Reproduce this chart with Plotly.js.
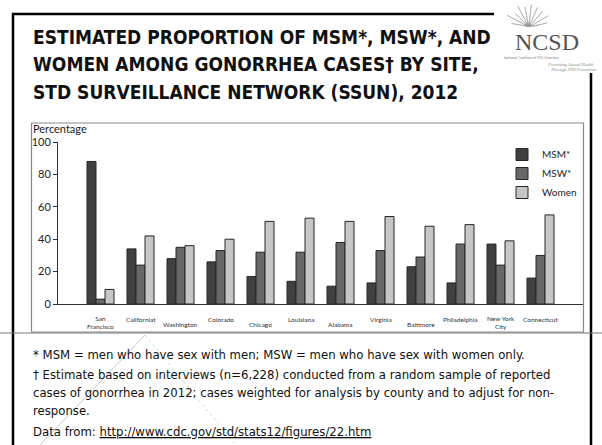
<!DOCTYPE html>
<html>
<head>
<meta charset="utf-8">
<script src="https://cdn.plot.ly/plotly-3.0.1.min.js"></script>
<style>
  html, body { margin: 0; padding: 0; background: #ffffff; }
  #chart { width: 602px; height: 445px; }
</style>
</head>
<body>
<div id="chart"></div>
<script>
// ---- data ----
const categories = ['San Francisco', 'Californiat', 'Washington', 'Colorado', 'Chicago', 'Louisiana',
                    'Alabama', 'Virginia', 'Baltimore', 'Philadelphia', 'New York City', 'Connecticut'];
const tickLabels = ['San<br>Francisco', 'Californiat', 'Washington', 'Colorado', 'Chicago', 'Louisiana',
                    'Alabama', 'Virginia', 'Baltimore', 'Philadelphia', 'New York<br>City', 'Connecticut'];
const msm   = [88, 34, 28, 26, 17, 14, 11, 13, 23, 13, 37, 16];
const msw   = [3, 24, 35, 33, 32, 32, 38, 33, 29, 37, 24, 30];
const women = [9, 42, 36, 40, 51, 53, 51, 54, 48, 49, 39, 55];
const seriesNames = ['MSM*', 'MSW*', 'Women'];
const yTicks = [0, 20, 40, 60, 80, 100];

const titleLines = [
  'ESTIMATED PROPORTION OF MSM*, MSW*, AND',
  'WOMEN AMONG GONORRHEA CASES\u2020 BY SITE,',
  'STD SURVEILLANCE NETWORK (SSUN), 2012'
];
const footLines = [
  '* MSM = men who have sex with men; MSW = men who have sex with women only.',
  '\u2020 Estimate based on interviews (n=6,228) conducted from a random sample of reported',
  'cases of gonorrhea in 2012; cases weighted for analysis by county and to adjust for non-',
  'response.'
];
const sourcePrefix = 'Data from: ';
const sourceUrl = 'http://www.cdc.gov/std/stats12/figures/22.htm';

// ---- geometry helpers (pixel -> paper) ----
const W = 602, H = 445;
const px = x => x / W;
const py = y => 1 - y / H;

const chartFont = 'Lato, "Open Sans", sans-serif';
const slideFont = '"DejaVu Sans Condensed", "Liberation Sans", Arial, sans-serif';

const colors = ['#404040', '#686868', '#c6c6c6'];
const seriesVals = [msm, msw, women];

const traces = seriesVals.map((vals, i) => ({
  type: 'bar',
  name: seriesNames[i],
  x: categories,
  y: vals,
  marker: { color: colors[i], line: { color: '#262626', width: 1 } },
  hoverinfo: 'x+y+name'
}));

const annotations = [];
// title lines
const titleY = [36.5, 64.5, 92.5];
titleLines.forEach((t, i) => annotations.push({
  xref: 'paper', yref: 'paper', x: px(31), y: py(titleY[i]),
  xanchor: 'left', yanchor: 'middle', showarrow: false,
  text: '<b>' + t + '</b>',
  font: { family: slideFont, size: 19, color: '#111' }
}));
// footnotes
const footY = [354, 374, 392, 410];
footLines.forEach((t, i) => annotations.push({
  xref: 'paper', yref: 'paper', x: px(31), y: py(footY[i]),
  xanchor: 'left', yanchor: 'middle', showarrow: false,
  text: t,
  font: { family: slideFont, size: 13, color: '#111' }
}));
annotations.push({
  xref: 'paper', yref: 'paper', x: px(31), y: py(431),
  xanchor: 'left', yanchor: 'middle', showarrow: false,
  text: sourcePrefix + '<span style="text-decoration:underline">' + sourceUrl + '</span>',
  font: { family: slideFont, size: 13, color: '#111' }
});
// y-axis label
annotations.push({
  xref: 'paper', yref: 'paper', x: px(31), y: py(129),
  xanchor: 'left', yanchor: 'middle', showarrow: false,
  text: 'Percentage',
  font: { family: chartFont, size: 11, color: '#222' }
});
// category labels (staggered)
categories.forEach((c, i) => {
  const twoLine = tickLabels[i].indexOf('<br>') >= 0;
  const lower = (i % 2 === 0);
  let yc = lower ? 324 : 319.5;
  if (twoLine) yc = 322.5;
  annotations.push({
    xref: 'x', yref: 'paper', x: c, y: py(yc),
    xanchor: 'center', yanchor: 'middle', showarrow: false,
    text: tickLabels[i],
    font: { family: chartFont, size: 6.5, color: '#333' }
  });
});
// logo text
annotations.push({
  xref: 'paper', yref: 'paper', x: px(547), y: py(42),
  xanchor: 'center', yanchor: 'middle', showarrow: false,
  text: 'NCSD',
  font: { family: '"Liberation Serif", "DejaVu Serif", serif', size: 24, color: '#555' }
});
annotations.push({
  xref: 'paper', yref: 'paper', x: px(531), y: py(58),
  xanchor: 'center', yanchor: 'middle', showarrow: false,
  text: 'National Coalition of STD Directors',
  font: { family: slideFont, size: 3.5, color: '#777' }
});
annotations.push({
  xref: 'paper', yref: 'paper', x: px(596), y: py(64),
  xanchor: 'right', yanchor: 'middle', showarrow: false,
  text: '<i>Promoting Sexual Health</i>',
  font: { family: '"Liberation Serif", serif', size: 4.5, color: '#888' }
});
annotations.push({
  xref: 'paper', yref: 'paper', x: px(599), y: py(70),
  xanchor: 'right', yanchor: 'middle', showarrow: false,
  text: '<i>Through STD Prevention</i>',
  font: { family: '"Liberation Serif", serif', size: 4.5, color: '#888' }
});

// sunburst logo path
function sunburst(cx, cy, rIn, rOut, a0, a1, n) {
  let d = '';
  for (let k = 0; k <= n; k++) {
    const a = (a0 + (a1 - a0) * k / n) * Math.PI / 180;
    const ah = (a0 + (a1 - a0) * (k + 0.5) / n) * Math.PI / 180;
    const r = rOut * (0.7 + 0.3 * Math.abs(Math.sin(k * 1.7)));
    const ox = cx + r * Math.cos(a), oy = cy - r * Math.sin(a);
    d += (k === 0 ? 'M' : 'L') + px(cx + rIn * Math.cos(a - 0.12)).toFixed(4) + ',' + py(cy - rIn * Math.sin(a - 0.12)).toFixed(4);
    d += 'L' + px(ox).toFixed(4) + ',' + py(oy).toFixed(4);
    if (k < n) d += 'L' + px(cx + rIn * Math.cos(ah)).toFixed(4) + ',' + py(cy - rIn * Math.sin(ah)).toFixed(4);
  }
  d += 'L' + px(cx).toFixed(4) + ',' + py(cy).toFixed(4) + 'Z';
  return d;
}

const shapes = [
  // slide frame
  { type: 'rect', xref: 'paper', yref: 'paper', x0: px(13), x1: px(591), y0: py(470), y1: py(14),
    line: { color: '#000', width: 2.5 }, layer: 'below' },
  // white logo background covering the frame corner
  { type: 'rect', xref: 'paper', yref: 'paper', x0: px(494), x1: px(602), y0: py(73), y1: py(0),
    fillcolor: '#ffffff', line: { width: 0 }, layer: 'below' },
  // chart image box
  { type: 'rect', xref: 'paper', yref: 'paper', x0: px(31.5), x1: px(583.5), y0: py(332), y1: py(123),
    line: { color: '#8a8a8a', width: 1.2 }, layer: 'below' },
  // horizontal slide rule
  { type: 'line', xref: 'paper', yref: 'paper', x0: px(0), x1: px(602), y0: py(333), y1: py(333),
    line: { color: '#777', width: 1 }, layer: 'below' },
  // faint diagonal decorations
  { type: 'line', xref: 'paper', yref: 'paper', x0: px(145), y0: py(335), x1: px(40), y1: py(445),
    line: { color: '#c8c8c8', width: 1 }, layer: 'below' },
  { type: 'line', xref: 'paper', yref: 'paper', x0: px(145), y0: py(335), x1: px(236), y1: py(445),
    line: { color: '#d8d8d8', width: 1, dash: 'dot' }, layer: 'below' },
  // logo burst
  { type: 'path', xref: 'paper', yref: 'paper', path: sunburst(528, 27, 4, 24, 168, 12, 9),
    fillcolor: '#9a9a9a', line: { color: '#9a9a9a', width: 0.5 } }
];

const layout = {
  width: W, height: H,
  margin: { l: 0, r: 0, t: 0, b: 0, pad: 0 },
  paper_bgcolor: '#ffffff', plot_bgcolor: 'rgba(0,0,0,0)',
  barmode: 'group', bargap: 0.325, bargroupgap: 0,
  showlegend: true,
  legend: {
    x: px(502), y: py(140), xanchor: 'left', yanchor: 'top',
    bgcolor: 'rgba(0,0,0,0)', borderwidth: 0,
    font: { family: chartFont, size: 10, color: '#222' },
    itemclick: false, itemdoubleclick: false
  },
  xaxis: {
    domain: [px(58), px(583)],
    range: [-1.0625, 12.0625],
    type: 'category',
    showline: true, linecolor: '#333', linewidth: 1,
    ticks: '', showticklabels: false, showgrid: false, zeroline: false, fixedrange: true
  },
  yaxis: {
    domain: [py(304), py(142)],
    range: [0, 100],
    tickvals: yTicks,
    showline: true, linecolor: '#333', linewidth: 1,
    ticks: 'outside', ticklen: 4, tickcolor: '#333', tickwidth: 1,
    tickfont: { family: chartFont, size: 11, color: '#222' },
    showgrid: false, zeroline: false, fixedrange: true
  },
  annotations: annotations,
  shapes: shapes
};

Plotly.newPlot('chart', traces, layout, { displayModeBar: false, staticPlot: true });
</script>
</body>
</html>
